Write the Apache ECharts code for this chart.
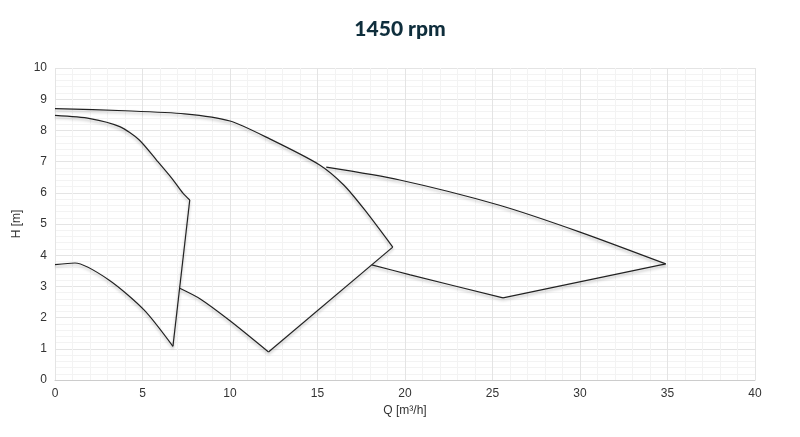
<!DOCTYPE html>
<html><head><meta charset="utf-8">
<script src="https://cdn.jsdelivr.net/npm/echarts@6/dist/echarts.min.js"></script>
<style>html,body{margin:0;padding:0;background:#fff}#c{width:800px;height:437px}</style>
</head><body><div id="c"></div>
<script>
const etn50Top=[[0,8.48],[2,8.38],[3.7,8.12],[4.8,7.7],[5.8,7.05],[6.7,6.45],[7.3,6.0],[7.7,5.77]];
const etn50Side=[[7.7,5.77],[6.74,1.08]];
const etn50Bottom=[[6.74,1.08],[5.1,2.24],[3.1,3.2],[1.14,3.75],[0,3.7]];
const etn60Top=[[0,8.7],[4,8.63],[7.4,8.53],[10,8.3],[12.3,7.72],[15.1,6.9],[16.5,6.25],[17.7,5.45],[19.3,4.26]];
const etn60Side=[[19.3,4.26],[12.2,0.9]];
const etn60Bottom=[[12.2,0.9],[10,1.9],[8.3,2.6],[7.1,2.95]];
const etn70Top=[[15.5,6.82],[19.7,6.41],[25.4,5.6],[30,4.74],[34.9,3.72]];
const etn70Side=[[34.9,3.72],[25.6,2.63]];
const etn70Bottom=[[25.6,2.63],[20.3,3.37],[18.1,3.69]];
const labels=[["ETN 50",2.9,5.55],["ETN 60",12,5.03],["ETN 70",24.5,4.45]];
const curves=[[etn50Top,true],[etn50Side,false],[etn50Bottom,true],[etn60Top,true],[etn60Side,false],[etn60Bottom,true],[etn70Top,true],[etn70Side,false],[etn70Bottom,true]];
const series=curves.map(([d,s])=>({type:'line',data:d,smooth:s?0.25:false,symbol:'none',
 lineStyle:{color:'#222',width:1.2,shadowColor:'rgba(0,0,0,0.3)',shadowBlur:3,shadowOffsetY:2}}));
series.push({type:'scatter',symbolSize:1,itemStyle:{opacity:0},data:labels.map(l=>[l[1],l[2],l[0]]),
 label:{show:true,position:'inside',formatter:p=>p.data[2],fontSize:14,fontWeight:900,color:'#0f2e3c',fontFamily:'Lato'}});
const ch=echarts.init(document.getElementById('c'));
ch.setOption({
 title:{text:'1450 rpm',left:'center',top:14,textStyle:{fontSize:21,fontWeight:900,color:'#0f2e3c',fontFamily:'Lato'}},
 grid:{left:55,right:45,top:68,bottom:57},
 xAxis:{type:'value',min:0,max:40,interval:5,name:'Q [m³/h]',nameLocation:'middle',nameGap:20,
  nameTextStyle:{color:'#333',fontSize:12},axisLabel:{color:'#333'},axisLine:{lineStyle:{color:'#ccc'}},axisTick:{show:false},
  splitLine:{lineStyle:{color:'#e4e4e4'}},minorTick:{show:false,splitNumber:5},minorSplitLine:{show:true,lineStyle:{color:'#f3f3f3'}}},
 yAxis:{type:'value',min:0,max:10,interval:1,name:'H [m]',nameLocation:'middle',nameGap:30,
  nameTextStyle:{color:'#333',fontSize:12},axisLabel:{color:'#333'},axisLine:{show:false},axisTick:{show:false},
  splitLine:{lineStyle:{color:'#e4e4e4'}},minorTick:{show:false,splitNumber:5},minorSplitLine:{show:true,lineStyle:{color:'#f3f3f3'}}},
 series:series,animation:false
});
</script></body></html>
